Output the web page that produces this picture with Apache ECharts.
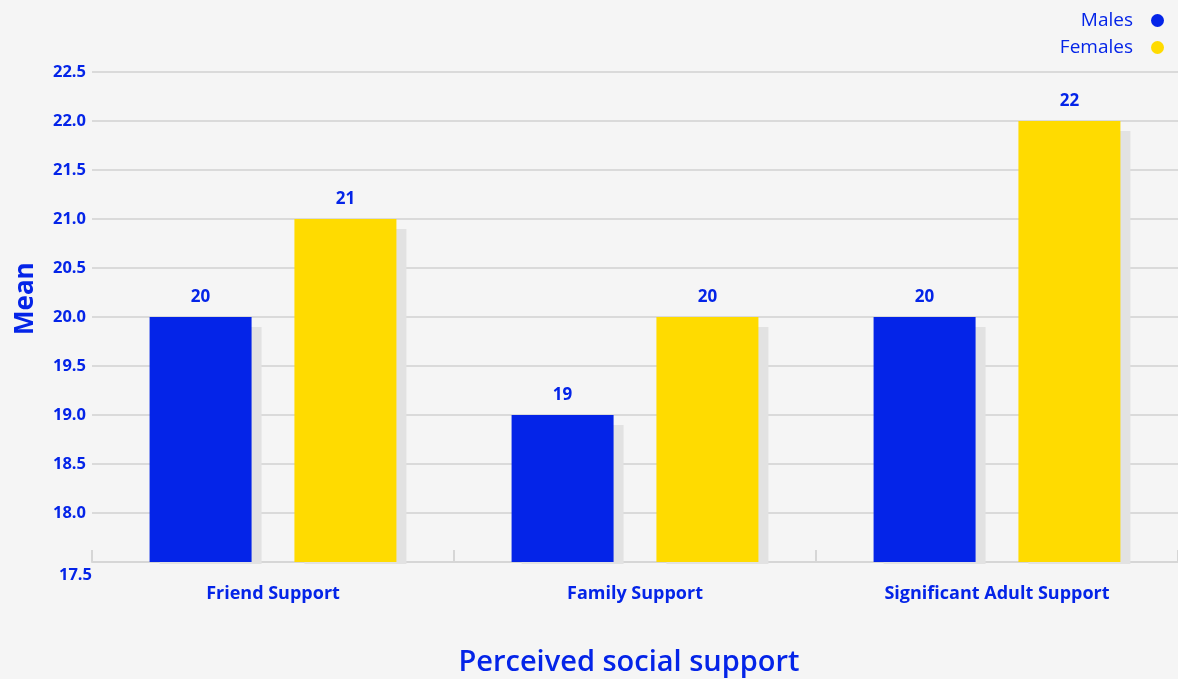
<!DOCTYPE html>
<html>
<head>
<meta charset="utf-8">
<script src="https://cdn.jsdelivr.net/npm/echarts@6/dist/echarts.min.js"></script>
<style>
  html, body { margin: 0; padding: 0; background: #f5f5f5; }
  #chart { width: 1178px; height: 679px; }
</style>
</head>
<body>
<div id="chart"></div>
<script>
var categories = ['Friend Support', 'Family Support', 'Significant Adult Support'];
var males = [20, 19, 20];
var females = [21, 20, 22];
var seriesNames = ['Males', 'Females'];

var blue = '#0424e8';
var yellow = '#ffdb00';
var font = '"Open Sans"';

function barSeries(name, data, color) {
  return {
    name: name,
    type: 'bar',
    data: data,
    barWidth: 102,
    barGap: '42%',
    itemStyle: {
      color: color,
      shadowColor: '#e2e2e2',
      shadowOffsetX: 10,
      shadowOffsetY: 10,
      shadowBlur: 0
    },
    label: {
      show: true,
      position: 'top',
      distance: 11,
      color: blue,
      fontFamily: font,
      fontWeight: 'bold',
      fontSize: 17
    }
  };
}

var chart = echarts.init(document.getElementById('chart'));
chart.setOption({
  backgroundColor: '#f5f5f5',
  animation: false,
  // plot runs a little past the right edge, like the original
  grid: { left: 92, right: -3, top: 72, bottom: 117 },
  legend: {
    orient: 'vertical',
    right: 9,
    top: 6,
    align: 'right',
    icon: 'circle',
    itemWidth: 13,
    itemHeight: 13,
    itemGap: 8,
    data: seriesNames,
    textStyle: { color: blue, fontFamily: font, fontSize: 19, padding: [0, 13, 0, 0] }
  },
  xAxis: {
    type: 'category',
    data: categories,
    axisLine: { lineStyle: { color: '#d6d6d6', width: 2 } },
    axisTick: { show: true, inside: true, length: 12, lineStyle: { color: '#d6d6d6', width: 2 } },
    axisLabel: {
      color: blue, fontFamily: font, fontWeight: 'bold', fontSize: 18, margin: 23
    }
  },
  yAxis: {
    type: 'value',
    min: 17.5,
    max: 22.5,
    interval: 0.5,
    axisLine: { show: false },
    axisTick: { show: false },
    splitLine: { lineStyle: { color: '#dadada', width: 2 } },
    axisLabel: {
      margin: 6,
      formatter: function (v) {
        return v === 17.5 ? '{low|17.5}' : '{n|' + v.toFixed(1) + '}';
      },
      rich: {
        n: { color: blue, fontFamily: font, fontWeight: 'bold', fontSize: 16.5 },
        low: { color: blue, fontFamily: font, fontWeight: 'bold', fontSize: 16.5, padding: [26, -6, 0, 0] }
      }
    }
  },
  graphic: [
    {
      // hides the part of the bar shadows that falls below the x axis
      type: 'rect',
      z: 10,
      shape: { x: 94, y: 564, width: 1084, height: 12 },
      style: { fill: '#f5f5f5' }
    },
    {
      type: 'text',
      rotation: Math.PI / 2,
      x: 13, y: 335,
      style: { text: 'Mean', fill: blue, font: 'bold 26px "Open Sans"' }
    },
    {
      type: 'text',
      x: 629, y: 663,
      style: {
        text: 'Perceived social support', fill: blue, font: '600 29px "Open Sans"',
        align: 'center', verticalAlign: 'middle'
      }
    }
  ],
  series: [barSeries(seriesNames[0], males, blue), barSeries(seriesNames[1], females, yellow)]
});
</script>
</body>
</html>
